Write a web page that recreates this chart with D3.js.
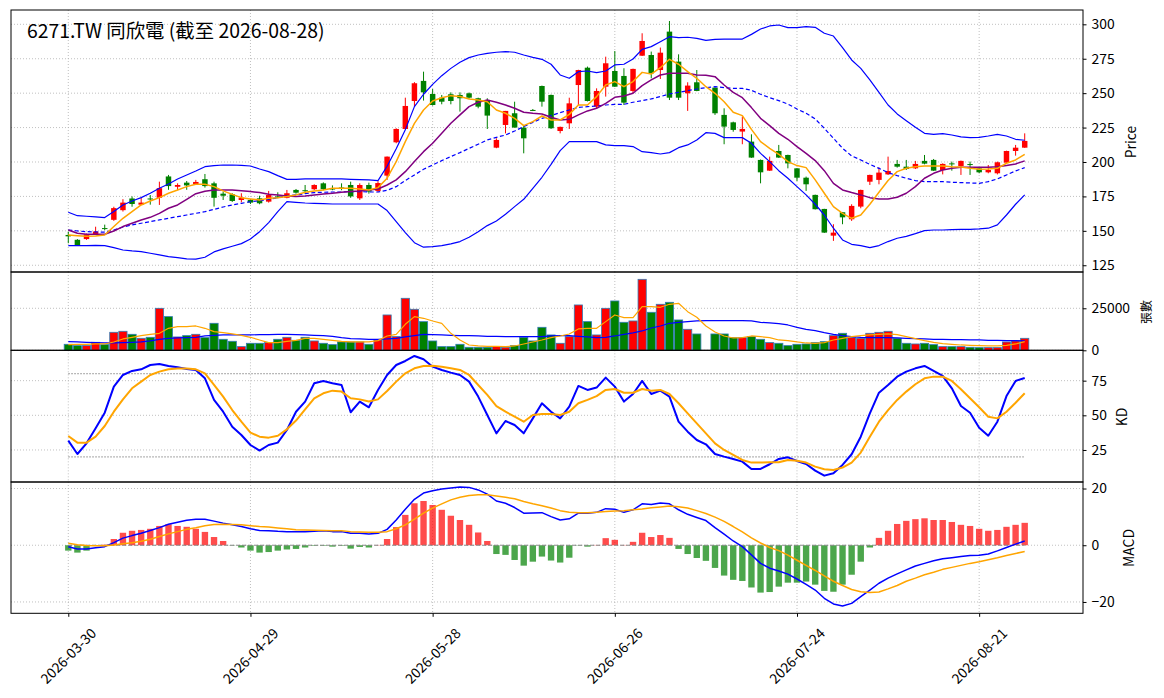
<!DOCTYPE html>
<html>
<head>
<meta charset="utf-8">
<script src="https://cdn.jsdelivr.net/npm/d3@7"></script>
<style>
  body { margin: 0; background: #fff; }
  text { font-family: "Noto Sans CJK TC", "Noto Sans", sans-serif; }
</style>
</head>
<body>
<script>
// ---- data (index = trading day, 70 has no trade) ----
const TITLE = "6271.TW 同欣電 (截至 2026-08-28)";
const TICK_IDX = [0, 20, 40, 60, 80, 100];
const TICK_LABELS = ["2026-03-30", "2026-04-29", "2026-05-28", "2026-06-26", "2026-07-24", "2026-08-21"];

const OPEN = [147,143.5,144,147.5,152,158,165,173.5,169,173.5,
  174,189.5,182,185,184,187.5,184.5,177,176.5,172.4,
  172.5,173.6,171.2,175,174,179.7,179.5,180.2,184.5,181,
  181.5,183.3,173.6,183.3,179,190.1,214.3,224,244.3,258.9,
  249.4,246.7,249.2,248.7,249.9,246.3,245,210.4,226.9,235.4,
  225,237.8,255.2,248.7,222.5,228.1,255.9,268.5,240.2,254.7,
  266.1,262.5,251.6,277.2,277.7,266.8,294.7,272.9,249.9,257.9,
  null,254,234.2,228.8,222.1,214.8,201.5,193.7,208,205.1,
  195.4,188.6,176.1,165.9,146.5,163.5,158.4,167.6,185.7,187,
  191,198.6,196.6,195.4,200.8,201.5,194.2,199,197.1,198.5,
  195.4,192.5,191.8,199.5,208,210.4];
const HIGH = [149.4,144,148,153,154.5,167.5,173,175,174,176,
  185.7,190.6,184.5,186.2,187,191.3,185.7,178.5,177.3,177.3,
  173,175.5,179,178,179.7,180.4,183.3,183.8,185.2,183,
  184.5,185.7,184.5,185,186,204,224.5,246.7,258,265.6,
  253,248.7,250.6,250.6,250.5,246.7,246.3,217.2,237.1,243.8,
  226.9,238.5,255.5,249,225.7,246.7,267,269.3,253.5,276.5,
  280.6,268.1,267.8,293.5,280.2,283.1,302.4,278.2,257.9,266.8,
  null,254.2,239,229.3,233,220.1,201.8,203.9,212.4,205.3,
  195.6,189.4,176.3,166,154.8,163.7,169.3,179.9,190.8,196.1,
  203.9,201.5,201.5,200.8,205.1,202.2,199,200.3,201,200.3,
  196.1,197.8,200.3,208.2,212.4,220.8];
const LOW = [141,139,143.5,147,150.5,157.2,164,167.5,168.8,169,
  168.8,179.8,179.8,179.8,183.3,181.4,167.6,172.4,171,170.7,
  169.5,169.3,170.5,173.6,173.6,177,177,179.5,179.5,179.5,
  179.5,174,172.4,177,178,187,213.6,223.5,240.2,244.6,
  241,241.9,241.9,236.6,246,239,224,210,220.8,225,
  206.3,237,240.2,224,220.8,224,241.4,244,239,247.5,
  254.5,241.4,249.9,277,260.8,260.3,245,245,237.1,251.4,
  null,234.2,212.9,222,212.9,203,184.5,193.5,203,195.4,
  186.2,179,165.5,148.5,142.7,154.8,157.2,166.4,183.3,183.8,
  190.6,195.9,194.2,194.9,198.3,193.5,191,193.7,190.6,190.6,
  191.8,191.8,191,199,204.6,210.2];
const CLOSE = [146,139.5,147.5,149.5,151.5,166.5,170.5,169.5,170.5,173,
  181,182.5,183.3,183,185.5,182.5,174,175.5,171.7,174.1,
  170.5,170,176,174.5,177.3,177.7,179,183.3,180.2,180,
  180.5,175,183.3,178.5,184.7,203.9,224,240.7,257.2,250.6,
  241.4,243.8,244.3,246.3,246.7,240.2,233.7,216,237.1,225,
  217.2,237.6,243.8,224.5,225.5,242.6,266.8,244.3,251.6,271.7,
  254.7,243.1,267.6,287.9,264.4,279.4,246.7,246.7,255.5,251.6,
  null,235.4,225.7,223.3,224,203.2,192.5,200.8,203.2,199,
  188.6,183.8,165.7,148.7,148.7,159.8,168.1,179.7,190.6,192.3,
  193.5,196.6,194.9,198.6,198.8,193.7,198.6,198.3,200.8,198,
  192.5,194.2,199.8,208,210.4,215.3];
const VOLUME = [3570,2780,2780,4760,3370,10710,11310,9520,7140,7740,
  24990,20040,7940,8730,9520,7540,16070,6550,5360,2180,
  4170,4170,4560,6550,7740,5950,7740,5560,4170,3370,
  4960,4960,4960,3570,6150,21030,8130,30950,24400,17040,
  5550,2180,2180,3570,1790,1790,1790,2180,1790,2780,
  7740,5560,13690,9130,4170,8130,26980,17060,9130,24990,
  29360,16670,17460,42240,22620,27380,28570,18050,12500,9720,
  null,9720,9720,7540,7540,8130,6550,4560,4170,2780,
  3570,3770,4560,5160,8730,10120,7540,7140,10120,10710,
  11310,7140,4170,3770,4170,3370,2180,2180,2180,1790,
  1590,1590,1590,4960,5560,7140];

// price overlays
const MA5 = [147.0,146.5,146.0,146.3,147.0,153.1,159.1,164.0,168.8,171.7,
  174.1,177.3,179.7,182.1,183.8,183.8,182.1,179.0,176.5,174.1,
  173.2,172.4,173.6,174.1,174.9,176.1,178.0,179.0,179.7,180.9,
  180.9,180.9,180.4,179.7,181.4,188.2,200.3,214.8,228.1,237.8,
  244.3,246.7,248.2,247.5,245.8,245.0,243.8,237.8,235.4,231.7,
  226.4,229.3,233.4,230.5,230.5,234.6,241.4,241.4,247.5,255.9,
  258.4,254.7,258.4,265.1,263.9,268.5,274.6,271.0,265.6,260.8,
  254.7,249.9,243.8,236.1,233.7,223.7,214.8,209.9,205.6,200.3,
  197.4,195.9,187.0,177.3,167.6,162.7,159.1,161.5,169.3,178.0,
  186.5,193.0,195.4,196.6,197.1,197.1,197.1,196.6,196.4,195.4,
  194.7,194.9,195.4,199.1,201.5,205.6];
const MA10 = [150.6,148.2,147.5,147.5,147.5,149.9,153.1,155.5,157.9,159.8,
  162.7,166.4,168.8,172.9,177.0,178.7,179.7,179.7,179.7,179.2,
  178.5,177.8,176.5,176.1,175.3,174.9,175.3,176.1,176.8,177.3,
  178.0,178.5,179.0,179.7,180.4,183.3,187.0,193.0,200.3,207.5,
  213.6,220.8,228.1,234.2,240.2,243.4,245.0,243.4,241.4,239.0,
  236.1,235.4,234.9,232.5,230.5,231.0,234.2,237.1,239.0,242.6,
  247.0,248.0,249.9,255.5,259.6,263.2,264.4,264.4,264.4,263.2,
  263.0,262.0,255.9,250.6,246.7,239.5,231.7,226.4,220.8,216.5,
  211.2,206.3,201.0,193.7,184.5,179.7,177.8,176.1,174.1,173.2,
  173.2,174.4,177.3,182.1,188.2,191.8,194.2,195.4,196.1,196.1,
  196.1,196.1,196.6,197.4,198.6,200.8];
const BB_UP = [163.5,161.0,160.6,160.1,159.6,164.0,168.8,171.7,174.1,177.3,
  180.9,184.0,187.7,190.6,193.5,196.6,197.4,197.8,197.8,197.6,
  197.1,194.9,193.0,190.1,187.4,187.4,187.7,187.7,187.7,187.7,
  187.7,187.4,187.2,187.0,186.5,196.9,209.6,223.5,240.2,249.2,
  256.4,262.7,268.0,272.4,275.8,277.7,278.9,279.7,280.2,279.7,
  277.7,276.0,274.6,271.0,263.2,260.8,265.6,266.1,264.9,266.1,
  270.5,271.0,274.8,281.8,283.8,287.4,291.0,290.3,290.6,289.8,
  288.4,289.1,289.3,289.3,289.3,292.7,296.6,298.8,299.5,297.6,
  297.6,298.3,297.8,293.5,291.5,283.1,274.1,268.0,259.6,250.6,
  241.4,234.9,230.0,225.2,220.8,220.1,220.6,219.6,218.2,217.7,
  217.9,218.9,220.1,218.9,216.5,215.8];
const BB_MID = [150.6,149.9,149.4,149.2,149.0,150.6,152.8,154.3,155.5,156.7,
  157.9,159.1,160.3,161.5,162.7,163.9,165.6,167.3,168.8,170.0,
  171.2,171.9,172.9,174.1,175.3,176.1,177.0,177.8,178.0,178.2,
  178.2,178.5,178.5,178.2,178.2,179.4,182.1,186.5,190.6,194.7,
  197.8,201.0,203.9,206.8,209.9,212.9,216.0,217.9,219.6,222.5,
  225.7,228.8,231.7,233.7,235.9,237.8,239.7,240.2,240.7,241.4,
  241.9,241.9,243.4,244.6,245.8,247.5,249.4,250.6,251.8,253.0,
  254.0,254.7,254.0,253.5,253.5,252.1,249.2,246.7,244.6,242.1,
  238.5,235.4,231.3,224.5,217.2,210.0,204.4,201.5,198.3,195.4,
  192.3,190.1,188.2,186.5,185.7,185.7,185.7,185.3,185.0,184.8,
  184.5,185.7,187.7,190.6,193.5,195.9];
const BB_LOW = [139.3,139.3,139.3,139.5,139.3,137.8,136.1,135.4,134.9,133.7,
  132.5,131.3,130.6,129.6,129.4,130.8,134.7,136.9,138.8,140.7,
  144.1,149.4,156.0,163.9,171.2,170.7,170.2,170.0,169.7,169.5,
  169.5,169.5,169.5,169.5,169.5,164.7,156.7,148.7,141.4,138.1,
  138.5,139.3,140.5,142.2,145.3,149.4,153.8,157.2,162.0,167.6,
  172.9,180.9,188.9,198.3,208.3,214.8,214.8,214.8,214.8,212.4,
  211.9,211.9,211.2,207.5,206.8,205.8,206.8,210.4,212.4,216.0,
  221.3,220.8,217.7,217.7,217.7,213.6,206.3,200.3,193.7,188.2,
  182.1,176.1,169.3,161.5,151.9,143.4,140.2,139.3,137.8,139.3,
  142.2,144.6,146.0,148.0,150.2,150.6,150.6,150.9,151.1,151.1,
  151.4,151.9,154.3,161.5,169.3,176.1];

// volume averages
const VOL_MA5 = [3370,3570,3570,3770,3770,4960,6750,7740,8730,9520,
  10120,13090,14090,14090,14480,13090,11110,10520,9720,8930,
  7740,6150,4560,4560,5360,5950,7140,7140,6550,5950,
  5360,4960,4960,4960,5750,8530,9520,15470,20040,19050,
  17460,16070,10120,6150,3170,2580,2380,2380,2180,2580,
  3770,4960,6150,7540,8530,9720,12700,13090,13090,17060,
  21030,19440,19440,25990,25990,25590,27380,27970,23010,19640,
  14480,10910,8530,7340,7540,8530,8130,7540,6150,5750,
  4960,4360,4170,4560,6150,7140,8130,8730,9130,9520,
  9720,9330,8130,6940,5750,4760,3970,3570,3170,2980,
  2780,2580,2580,2980,3770,5160];
const VOL_MA20 = [5160,4960,4760,4560,4360,4360,4560,4760,4960,5560,
  6550,7140,7340,7540,7740,8530,8930,9130,9130,9130,
  9130,9320,9320,9520,9520,9320,9130,8930,8730,8330,
  7540,6940,6750,6550,6550,6750,7140,7940,8730,9520,
  9320,9130,8930,8730,8730,8530,8330,8330,8130,8130,
  8130,8130,8130,8530,8730,8730,8330,7940,7540,7740,
  8530,9520,10320,11510,13290,14480,16070,16670,17060,17460,
  17660,17660,17660,17660,17660,17460,16670,16270,15870,15080,
  13690,12500,11710,10520,9520,8730,8130,7740,7540,7540,
  7540,7340,7140,6940,6750,6550,6550,6350,6350,6150,
  6150,5950,5950,5750,5750,5560];

// KD
const K_VAL = [31.7,22.1,29.8,40.6,51.9,70.7,79.1,82.0,83.2,86.3,
  87.0,85.6,84.6,83.4,82.7,76.7,61.1,52.6,41.8,35.8,
  28.6,24.6,28.6,30.3,39.4,52.6,59.9,73.1,74.8,73.1,
  71.9,52.2,59.9,55.8,68.3,79.1,86.3,89.2,92.8,90.4,
  85.1,82.7,80.8,79.1,74.3,63.5,50.2,37.0,45.9,43.0,
  37.0,47.8,58.7,52.6,47.8,56.3,71.2,68.3,70.0,77.2,
  70.7,59.9,65.4,74.8,65.4,67.8,63.5,45.4,38.2,32.2,
  29.1,22.1,20.2,18.5,16.6,11.3,11.3,14.7,18.5,19.7,
  17.1,14.9,10.1,6.5,8.2,14.2,21.9,34.6,51.4,66.3,
  71.9,77.9,81.5,83.9,85.6,82.0,78.4,69.5,56.7,51.9,
  41.1,35.3,45.4,63.9,74.8,76.9];
const D_VAL = [35.1,30.3,30.3,34.6,42.3,52.6,61.5,69.5,74.3,79.1,
  81.5,83.2,83.7,83.7,83.2,80.3,71.9,63.5,53.8,45.4,
  37.5,34.6,33.9,35.3,39.9,46.2,54.3,62.3,65.9,67.8,
  67.1,62.3,61.5,59.9,61.5,67.5,74.3,80.3,83.9,85.6,
  85.8,85.1,83.9,82.7,79.1,71.9,64.7,56.7,52.6,49.0,
  45.4,50.2,51.0,51.0,50.2,52.6,58.7,61.1,63.9,68.3,
  69.0,66.3,66.3,69.0,67.8,68.3,65.4,58.7,51.4,44.2,
  37.0,29.8,25.0,21.4,17.8,15.9,15.9,16.1,16.1,17.8,
  17.3,15.9,13.0,11.1,10.6,12.3,15.9,23.1,34.6,45.4,
  53.8,61.1,67.1,72.4,76.7,77.9,77.9,74.8,68.8,62.3,
  55.8,49.0,47.8,52.6,59.1,65.9];

// MACD
const DIF = [-0.5,-1.3,-1.3,-0.9,-0.5,0.9,2.5,3.4,4.2,5.2,
  6.2,7.4,8.1,8.8,9.2,9.2,8.5,7.8,7.2,6.6,
  5.8,5.2,5.1,4.9,4.8,4.8,4.8,4.9,5.1,4.8,
  4.8,4.2,4.2,4.0,4.2,5.6,8.9,12.7,16.2,18.4,
  19.2,19.8,20.2,20.5,20.4,19.5,18.0,15.6,14.8,13.3,
  11.3,11.4,11.5,10.1,8.9,9.3,11.3,11.3,11.6,12.9,
  12.7,11.6,12.5,14.6,14.4,14.9,14.6,12.5,10.9,9.8,
  8.7,6.2,3.9,1.5,-0.5,-3.4,-6.4,-8.1,-9.1,-10.2,
  -11.9,-13.8,-15.8,-18.7,-20.7,-21.4,-20.5,-18.1,-15.8,-13.4,
  -11.6,-10.1,-8.7,-7.3,-6.4,-5.5,-4.8,-4.4,-4.0,-3.6,
  -3.5,-3.1,-2.0,-0.8,0.4,1.5];
const DEA = [0.7,0.2,-0.1,-0.2,-0.2,0.1,0.5,0.9,1.4,2.1,
  3.1,4.0,4.8,5.6,6.2,6.9,7.3,7.4,7.3,7.2,
  6.9,6.6,6.4,6.1,5.8,5.5,5.4,5.3,5.2,5.1,
  5.1,4.8,4.7,4.6,4.6,4.8,5.8,7.2,9.2,11.3,
  13.1,14.6,16.0,16.9,17.5,17.8,17.8,17.4,16.9,16.4,
  15.4,14.6,13.9,13.1,12.2,11.6,11.5,11.5,11.6,11.9,
  12.1,12.2,12.5,12.8,13.2,13.5,13.8,13.6,13.1,12.2,
  11.2,9.9,8.4,6.6,4.7,2.6,0.8,-0.8,-1.9,-3.5,
  -5.3,-7.1,-8.9,-10.8,-12.7,-14.2,-15.6,-16.4,-16.7,-16.5,
  -15.4,-14.2,-12.7,-11.6,-10.4,-9.5,-8.5,-7.8,-7.1,-6.4,
  -5.8,-5.1,-4.4,-3.6,-2.9,-2.2];
const HIST = [-1.9,-2.6,-1.9,-0.3,0.2,2.2,4.4,5.1,5.4,5.8,
  6.8,7.4,6.8,6.5,5.8,4.7,2.9,1.5,-0.1,-0.8,
  -1.9,-2.6,-2.4,-1.9,-1.5,-1.3,-0.8,-0.2,-0.2,-0.5,
  -0.2,-1.2,-0.6,-0.8,0.1,2.2,6.4,10.7,14.8,15.6,
  14.2,12.5,10.4,8.9,7.2,4.5,1.5,-3.1,-3.4,-5.2,
  -7.2,-5.8,-4.0,-5.4,-6.1,-4.4,-0.1,-0.5,0.1,2.5,
  1.9,0.1,1.2,4.4,2.9,3.6,2.6,-1.3,-3.1,-4.5,
  -5.5,-8.0,-10.7,-12.2,-12.6,-14.9,-16.7,-16.5,-14.6,-13.2,
  -13.2,-12.8,-13.9,-16.1,-16.4,-13.9,-10.4,-5.8,-0.8,2.6,
  5.1,7.5,8.6,9.2,9.5,8.9,8.9,8.2,7.2,6.8,
  5.8,5.1,5.4,6.5,7.2,7.9];

const IDX = d3.range(CLOSE.length);

// ---- frame ----
const FRAME_WIDTH = 1164;
const FRAME_HEIGHT = 698;
const LEFT = 11, RIGHT = 1083;
const GRID_COLOR = "#b0b0b0";
const UP = "red", DOWN = "green";

const SVG = d3.select("body")
              .append("svg")
              .attr("width", FRAME_WIDTH)
              .attr("height", FRAME_HEIGHT);

const X_SCALE = d3.scaleLinear()
                  .domain([-6.29, 111.4])
                  .range([LEFT, RIGHT]);
const STEP = X_SCALE(1) - X_SCALE(0);

// builds one stacked panel: grid, y scale, right axis
function makePanel(top, bottom, domain, ticks, fmt) {
    const y = d3.scaleLinear().domain(domain).range([bottom, top]);
    const g = SVG.append("g");

    // vertical grid
    g.selectAll(".vgrid")
        .data(TICK_IDX)
        .enter()
        .append("line")
            .attr("x1", (d) => X_SCALE(d))
            .attr("x2", (d) => X_SCALE(d))
            .attr("y1", top)
            .attr("y2", bottom)
            .attr("stroke", GRID_COLOR)
            .attr("stroke-width", 0.8)
            .attr("stroke-dasharray", "1,2");

    // horizontal grid
    g.selectAll(".hgrid")
        .data(ticks)
        .enter()
        .append("line")
            .attr("x1", LEFT)
            .attr("x2", RIGHT)
            .attr("y1", (d) => y(d))
            .attr("y2", (d) => y(d))
            .attr("stroke", GRID_COLOR)
            .attr("stroke-width", 0.8)
            .attr("stroke-dasharray", "1,2");

    const axis = SVG.append("g")
        .attr("transform", "translate(" + RIGHT + ",0)")
        .call(d3.axisRight(y).tickValues(ticks).tickSize(3.5).tickPadding(5)
              .tickFormat(fmt || d3.format("d")));
    axis.select(".domain").remove();
    axis.selectAll("text")
        .attr("font-size", "13.9px")
        .attr("fill", "#000")
        .style("font-family", "'Noto Sans CJK TC', 'Noto Sans', sans-serif");
    axis.selectAll("line").attr("stroke", "#000");

    return {g: g, y: y, top: top, bottom: bottom};
}

function drawLine(panel, values, color, width, dash) {
    const line = d3.line()
        .defined((d) => d != null)
        .x((d, i) => X_SCALE(i))
        .y((d) => panel.y(d));
    panel.g.append("path")
        .datum(values)
        .attr("d", line)
        .attr("fill", "none")
        .attr("stroke", color)
        .attr("stroke-width", width)
        .attr("stroke-linejoin", "round")
        .attr("stroke-dasharray", dash || null);
}

function drawBorder(panel) {
    SVG.append("rect")
        .attr("x", LEFT)
        .attr("y", panel.top)
        .attr("width", RIGHT - LEFT)
        .attr("height", panel.bottom - panel.top)
        .attr("fill", "none")
        .attr("stroke", "#000")
        .attr("stroke-width", 1);
}

function sideLabel(text, x, y, size) {
    SVG.append("text")
        .attr("transform", "translate(" + x + "," + y + ") rotate(-90)")
        .attr("text-anchor", "middle")
        .attr("dominant-baseline", "central")
        .attr("font-size", size)
        .text(text);
}

const candleColor = (i) => CLOSE[i] >= OPEN[i] ? UP : DOWN;
const traded = IDX.filter((i) => CLOSE[i] != null);

// ---- price panel ----
const PRICE = makePanel(10, 272, [120.1, 310.4], [125, 150, 175, 200, 225, 250, 275, 300]);

PRICE.g.selectAll(".wick")
    .data(traded)
    .enter()
    .append("line")
        .attr("x1", (i) => X_SCALE(i))
        .attr("x2", (i) => X_SCALE(i))
        .attr("y1", (i) => PRICE.y(HIGH[i]))
        .attr("y2", (i) => PRICE.y(LOW[i]))
        .attr("stroke", candleColor)
        .attr("stroke-width", 1);

PRICE.g.selectAll(".body")
    .data(traded)
    .enter()
    .append("rect")
        .attr("x", (i) => X_SCALE(i) - STEP * 0.3)
        .attr("width", STEP * 0.6)
        .attr("y", (i) => PRICE.y(Math.max(OPEN[i], CLOSE[i])))
        .attr("height", (i) => Math.max(1, Math.abs(PRICE.y(OPEN[i]) - PRICE.y(CLOSE[i]))))
        .attr("fill", candleColor);

drawLine(PRICE, BB_UP, "blue", 1.2);
drawLine(PRICE, BB_LOW, "blue", 1.2);
drawLine(PRICE, BB_MID, "blue", 1.2, "4,2.5");
drawLine(PRICE, MA10, "purple", 1.5);
drawLine(PRICE, MA5, "orange", 1.5);

SVG.append("text")
    .attr("x", 27)
    .attr("y", 38)
    .attr("font-size", "19.4px")
    .text(TITLE);

// ---- volume panel ----
const VOL = makePanel(272, 350.3, [0, 46600], [0, 25000]);

VOL.g.selectAll(".vbar")
    .data(traded)
    .enter()
    .append("rect")
        .attr("x", (i) => X_SCALE(i) - STEP * 0.45)
        .attr("width", STEP * 0.9)
        .attr("y", (i) => VOL.y(VOLUME[i]))
        .attr("height", (i) => VOL.y(0) - VOL.y(VOLUME[i]))
        .attr("fill", candleColor)
        .attr("stroke", "#2f7bb5")
        .attr("stroke-width", 0.8);

drawLine(VOL, VOL_MA20, "blue", 1.2);
drawLine(VOL, VOL_MA5, "orange", 1.2);

// ---- KD panel ----
const KD = makePanel(350.3, 482, [1.9, 96.9], [25, 50, 75]);

[80, 20].forEach((lvl) => {
    KD.g.append("line")
        .attr("x1", X_SCALE(0))
        .attr("x2", X_SCALE(IDX.length - 1))
        .attr("y1", KD.y(lvl))
        .attr("y2", KD.y(lvl))
        .attr("stroke", "#888")
        .attr("stroke-width", 1)
        .attr("stroke-dasharray", "1.5,1.5");
});

drawLine(KD, K_VAL, "blue", 2);
drawLine(KD, D_VAL, "orange", 2);

// ---- MACD panel ----
const MACD = makePanel(482, 613.3, [-24.0, 22.3], [-20, 0, 20]);

MACD.g.selectAll(".hbar")
    .data(IDX)
    .enter()
    .append("rect")
        .attr("x", (i) => X_SCALE(i) - STEP * 0.35)
        .attr("width", STEP * 0.7)
        .attr("y", (i) => MACD.y(Math.max(0, HIST[i])))
        .attr("height", (i) => Math.abs(MACD.y(HIST[i]) - MACD.y(0)))
        .attr("fill", (i) => HIST[i] >= 0 ? "red" : "green")
        .attr("fill-opacity", 0.7);

MACD.g.append("line")
    .attr("x1", X_SCALE(0))
    .attr("x2", X_SCALE(IDX.length - 1))
    .attr("y1", MACD.y(0))
    .attr("y2", MACD.y(0))
    .attr("stroke", "#888")
    .attr("stroke-width", 1)
    .attr("stroke-dasharray", "4,2");

drawLine(MACD, DIF, "blue", 1.5);
drawLine(MACD, DEA, "orange", 1.5);

// borders on top
[PRICE, VOL, KD, MACD].forEach(drawBorder);

// ---- x axis with rotated dates ----
const X_AXIS = SVG.append("g")
    .attr("transform", "translate(0," + MACD.bottom + ")")
    .call(d3.axisBottom(X_SCALE).tickValues(TICK_IDX).tickSize(3.5)
          .tickFormat((d, i) => TICK_LABELS[i]));
X_AXIS.select(".domain").remove();
X_AXIS.selectAll("line").attr("stroke", "#000");
X_AXIS.selectAll("text")
    .attr("y", 0)
    .attr("dy", 0)
    .attr("text-anchor", "middle")
    .attr("dominant-baseline", "central")
    .attr("font-size", "13.9px")
    .attr("fill", "#000")
    .style("font-family", "'Noto Sans CJK TC', 'Noto Sans', sans-serif")
    .attr("transform", "translate(-1,42) rotate(-45)");

// ---- axis titles on the right ----
sideLabel("Price", 1130, 142, "13.9px");
sideLabel("張數", 1145, 312, "12px");
sideLabel("KD", 1121, 417, "13.9px");
sideLabel("MACD", 1127.5, 548, "13.9px");
</script>
</body>
</html>
